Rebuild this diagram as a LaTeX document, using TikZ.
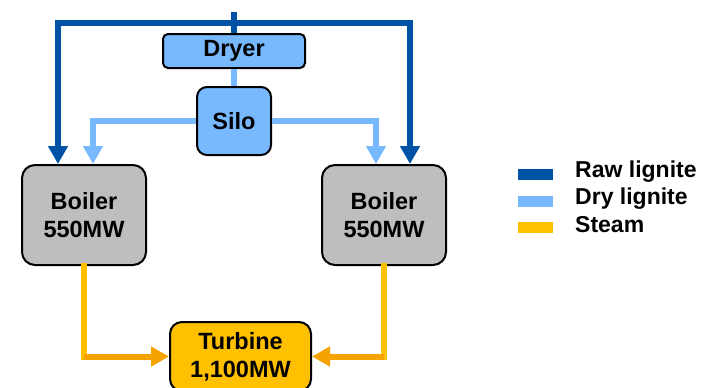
\documentclass[tikz,border=0pt]{standalone}
\usepackage{fontspec}
\setmainfont{Liberation Sans}
\usetikzlibrary{arrows.meta}
\definecolor{rawblue}{HTML}{0052A5}
\definecolor{drylight}{HTML}{78B8FF}
\definecolor{steamy}{HTML}{FFC000}
\definecolor{steamo}{HTML}{F5A300}
\definecolor{boilgrey}{HTML}{BCBEC0}
\tikzset{
  box/.style={draw=black, line width=2pt, align=center, font=\fontsize{23.5}{28}\selectfont\bfseries, inner sep=0pt},
  rawline/.style={draw=rawblue, line width=6pt},
  dryline/.style={draw=drylight, line width=6pt},
  steamline/.style={draw=steamy, line width=6pt},
  steamhline/.style={draw=steamo, line width=6pt},
  tip/.style={-{Triangle[width=19pt,length=18pt]}},
  swatch/.style={minimum width=35pt, minimum height=11pt, inner sep=0pt},
  legtext/.style={anchor=west, font=\fontsize{23}{26}\selectfont\bfseries, inner sep=0pt}
}
\begin{document}
\begin{tikzpicture}[x=1pt,y=-1pt]
\useasboundingbox (0,0) rectangle (710,388);
\clip (0,0) rectangle (710,388);
% nodes
\node[box, fill=drylight, rounded corners=5pt, minimum width=142pt, minimum height=34pt] (dryer) at (234,51) {Dryer};
\node[box, fill=drylight, rounded corners=10pt, minimum width=74pt, minimum height=68pt] (silo) at (234,121) {Silo};
\node[box, fill=boilgrey, rounded corners=13pt, minimum width=124pt, minimum height=100pt] (boilerL) at (84,215) {Boiler\\550MW};
\node[box, fill=boilgrey, rounded corners=13pt, minimum width=124pt, minimum height=100pt] (boilerR) at (384,215) {Boiler\\550MW};
\node[box, fill=steamy, rounded corners=12pt, minimum width=141pt, minimum height=69pt] (turbine) at (240.5,356.5) {Turbine\\1,100MW};
% raw lignite
\coordinate (rawin) at (234,12);
\coordinate (rawj) at (234,23);
\draw[rawline] (rawin) -- (dryer.north);
\draw[rawline, tip] (rawj) -| ([xshift=-26pt]boilerL.north);
\draw[rawline, tip] (rawj) -| ([xshift=26pt]boilerR.north);
% dry lignite
\draw[dryline] (dryer.south) -- (silo.north);
\draw[dryline, tip] (silo.west) -| ([xshift=9pt]boilerL.north);
\draw[dryline, tip] (silo.east) -| ([xshift=-8pt]boilerR.north);
% steam
\coordinate (sl) at (boilerL.south |- turbine.west);
\coordinate (sr) at (boilerR.south |- turbine.east);
\draw[steamline, line cap=rect] (boilerL.south) -- (sl);
\draw[steamline, line cap=rect] (boilerR.south) -- (sr);
\draw[steamhline, tip] (sl) -- (turbine.west);
\draw[steamhline, tip] (sr) -- (turbine.east);
% legend
\node[swatch, fill=rawblue] (lraw) at (535.5,174) {};
\node[swatch, fill=drylight] (ldry) at (535.5,201) {};
\node[swatch, fill=steamy] (lsteam) at (535.5,227) {};
\node[legtext] (traw) at (575,172) {Raw lignite};
\node[legtext] (tdry) at (575,198.5) {Dry lignite};
\node[legtext] (tsteam) at (575,225) {Steam};
\end{tikzpicture}
\end{document}
